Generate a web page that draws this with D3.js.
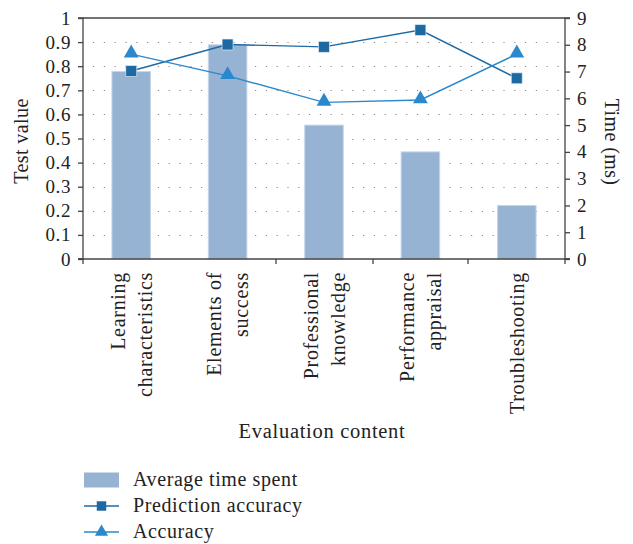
<!DOCTYPE html>
<html>
<head>
<meta charset="utf-8">
<script src="https://cdn.jsdelivr.net/npm/d3@7/dist/d3.min.js"></script>
<style>
  body { margin: 0; background: #fff; }
  svg text { font-family: "Liberation Serif", "DejaVu Serif", serif; fill: #222; }
</style>
</head>
<body>
<svg id="chart" width="633" height="544"></svg>
<script>
// Evaluation categories (label lines)
const categories = [
  ["Learning", "characteristics"],
  ["Elements of", "success"],
  ["Professional", "knowledge"],
  ["Performance", "appraisal"],
  ["Troubleshooting"]
];
// Average time spent (ms), right axis
const timeSpent = [7, 8, 5, 4, 2];
// Prediction accuracy and accuracy, left axis
const predictionAccuracy = [0.78, 0.89, 0.88, 0.95, 0.75];
const accuracy = [0.85, 0.76, 0.65, 0.66, 0.85];
const leftTicks = [0, 0.1, 0.2, 0.3, 0.4, 0.5, 0.6, 0.7, 0.8, 0.9, 1];
const rightTicks = [0, 1, 2, 3, 4, 5, 6, 7, 8, 9];

const svg = d3.select("#chart");
const m = { left: 83, right: 565, top: 18, bottom: 259 };

const x = d3.scaleBand().domain(d3.range(categories.length)).range([m.left, m.right]).paddingInner(0.6).paddingOuter(0.3);
const xc = i => x(i) + x.bandwidth() / 2;
const yL = d3.scaleLinear().domain([0, 1]).range([m.bottom, m.top]);
const yR = d3.scaleLinear().domain([0, 9]).range([m.bottom, m.top]);

const axisColor = "#444";
const barColor = "#97b3d4";
const predColor = "#1d6aa3";
const accColor = "#2a89cc";

// dotted grid
svg.append("g").selectAll("line").data(leftTicks.slice(1, -1)).join("line")
  .attr("x1", m.left + 10).attr("x2", m.right - 6)
  .attr("y1", d => Math.round(yL(d)) + 0.5).attr("y2", d => Math.round(yL(d)) + 0.5)
  .attr("stroke", "#888").attr("stroke-width", 1.2)
  .attr("stroke-dasharray", "1.2,9.6");

// bars
svg.append("g").selectAll("rect").data(timeSpent).join("rect")
  .attr("x", (d, i) => x(i)).attr("width", x.bandwidth())
  .attr("y", d => yR(d)).attr("height", d => yR(0) - yR(d))
  .attr("fill", barColor).attr("stroke", "#c5d6ea").attr("stroke-width", 1);

// frame top
svg.append("line").attr("x1", m.left).attr("x2", m.right).attr("y1", m.top).attr("y2", m.top)
  .attr("stroke", axisColor).attr("stroke-width", 1.3);

// left axis
const gL = svg.append("g").attr("transform", `translate(${m.left},0)`)
  .call(d3.axisLeft(yL).tickValues(leftTicks).tickSize(5).tickPadding(7).tickFormat(d => d3.format("")(d)));
// right axis
const gR = svg.append("g").attr("transform", `translate(${m.right},0)`)
  .call(d3.axisRight(yR).tickValues(rightTicks).tickSize(5).tickPadding(7).tickFormat(d3.format("d")));
// bottom axis, tick marks at band boundaries
const gB = svg.append("g").attr("transform", `translate(0,${m.bottom})`);
gB.append("line").attr("x1", m.left - 5).attr("x2", m.right + 5).attr("stroke", axisColor).attr("stroke-width", 1.3);
const bounds = [m.left, 276, 373, 468, m.right];
gB.selectAll("line.t").data(bounds).join("line").attr("class", "t")
  .attr("x1", d => d).attr("x2", d => d).attr("y1", 0).attr("y2", 5)
  .attr("stroke", axisColor).attr("stroke-width", 1.3);

[gL, gR].forEach(g => {
  g.select(".domain").attr("stroke", axisColor).attr("stroke-width", 1.3);
  g.selectAll(".tick line").attr("stroke", axisColor).attr("stroke-width", 1.3);
  g.selectAll(".tick text").attr("font-size", 19).attr("letter-spacing", 0.6)
    .attr("font-family", "Liberation Serif").attr("fill", "#222");
});
gL.select(".domain").attr("d", `M-5,${m.bottom}H0V${m.top}H-5`);
gR.select(".domain").attr("d", `M5,${m.bottom}H0V${m.top}H5`);

// lines
const line = d3.line().x((d, i) => xc(i)).y(d => yL(d));
svg.append("path").datum(predictionAccuracy).attr("d", line)
  .attr("fill", "none").attr("stroke", predColor).attr("stroke-width", 1.4);
svg.append("path").datum(accuracy).attr("d", line)
  .attr("fill", "none").attr("stroke", accColor).attr("stroke-width", 1.4);

const sq = d3.symbol(d3.symbolSquare, 120);
const tri = d3.symbol(d3.symbolTriangle, 95);
svg.append("g").selectAll("path").data(predictionAccuracy).join("path")
  .attr("d", sq).attr("transform", (d, i) => `translate(${xc(i)},${yL(d)})`)
  .attr("fill", predColor).attr("stroke", "#eef4fa").attr("stroke-width", 0.6);
svg.append("g").selectAll("path").data(accuracy).join("path")
  .attr("d", tri).attr("transform", (d, i) => `translate(${xc(i)},${yL(d) - 1})`)
  .attr("fill", accColor);

// category labels
const lineGap = 27;
categories.forEach((lines, i) => {
  const n = lines.length;
  lines.forEach((t, j) => {
    const bx = xc(i) + (j - (n - 1) / 2) * lineGap + 7;
    svg.append("text").attr("transform", `translate(${bx},272) rotate(-90)`)
      .attr("text-anchor", "end").attr("font-size", 20).attr("letter-spacing", 0.7).text(t);
  });
});

// axis titles
svg.append("text").attr("transform", "translate(28,141) rotate(-90)")
  .attr("text-anchor", "middle").attr("font-size", 20).attr("letter-spacing", 0.4).text("Test value");
svg.append("text").attr("transform", "translate(605,142) rotate(90)")
  .attr("text-anchor", "middle").attr("font-size", 20).attr("letter-spacing", 0.4).text("Time (ms)");
svg.append("text").attr("x", 322).attr("y", 438)
  .attr("text-anchor", "middle").attr("font-size", 20.5).attr("letter-spacing", 0.7).text("Evaluation content");

// legend
const lg = svg.append("g");
const legendRows = [
  { label: "Average time spent", kind: "bar" },
  { label: "Prediction accuracy", kind: "sq", color: predColor },
  { label: "Accuracy", kind: "tri", color: accColor }
];
legendRows.forEach((r, i) => {
  const cy = 480 + i * 26;
  if (r.kind === "bar") {
    lg.append("rect").attr("x", 84).attr("y", cy - 7.5).attr("width", 35).attr("height", 15).attr("fill", barColor);
  } else {
    lg.append("line").attr("x1", 84).attr("x2", 119).attr("y1", cy).attr("y2", cy)
      .attr("stroke", r.color).attr("stroke-width", 1.4);
    lg.append("path").attr("d", r.kind === "sq" ? d3.symbol(d3.symbolSquare, 90)() : d3.symbol(d3.symbolTriangle, 75)())
      .attr("transform", `translate(101.5,${cy})`).attr("fill", r.color);
  }
  lg.append("text").attr("x", 133).attr("y", cy + 5.5).attr("font-size", 20).attr("letter-spacing", 0.6).text(r.label);
});
</script>
</body>
</html>
